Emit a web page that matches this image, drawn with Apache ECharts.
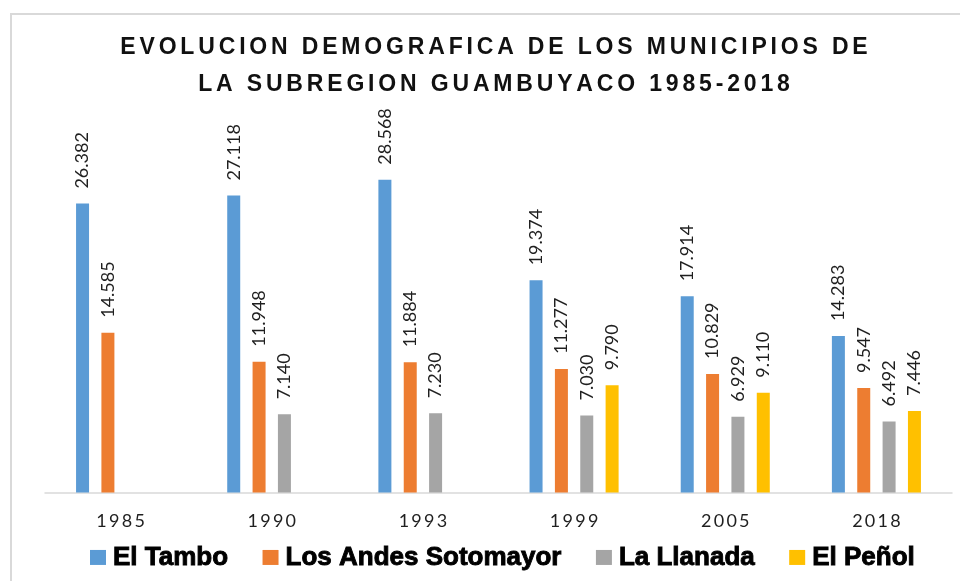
<!DOCTYPE html>
<html>
<head>
<meta charset="utf-8">
<script src="https://cdn.jsdelivr.net/npm/echarts@6/dist/echarts.min.js"></script>
<style>
html, body { margin:0; padding:0; background:#fff; overflow:hidden; }
#frame { position:absolute; left:10px; top:13px; width:1000px; height:1000px; border:2px solid #d9d9d9; }
#main { position:absolute; left:0; top:0; width:960px; height:581px; }
</style>
</head>
<body>
<div id="frame"></div>
<div id="main"></div>
<script>
var years = ['1985', '1990', '1993', '1999', '2005', '2018'];
var elTambo = [26382, 27118, 28568, 19374, 17914, 14283];
var losAndes = [14585, 11948, 11884, 11277, 10829, 9547];
var laLlanada = [null, 7140, 7230, 7030, 6929, 6492];
var elPenol = [null, null, null, 9790, 9110, 7446];

var names = ['El Tambo', 'Los Andes Sotomayor', 'La Llanada', 'El Peñol'];
var colors = ['#5B9BD5', '#ED7D31', '#A5A5A5', '#FFC000'];
var titleLines = ['EVOLUCION DEMOGRAFICA DE LOS MUNICIPIOS DE', 'LA SUBREGION GUAMBUYACO 1985-2018'];

// spread letters a bit, like the original title
function spaced(s, sep){
	return s.split('').join(sep);
}

function fmt(v){
	return (v / 1000).toFixed(3);
}

function makeSeries(name, data){
	return {
		name: name,
		type: 'bar',
		data: data,
		barWidth: 13,
		barGap: '95%',
		label: {
			show: true,
			position: 'top',
			rotate: 90,
			align: 'left',
			verticalAlign: 'middle',
			distance: 15,
			color: '#1f1f1f',
			fontFamily: 'Lato',
			fontSize: 18,
			formatter: function(p){ return fmt(p.value); }
		}
	};
}

var myChart = echarts.init(document.getElementById('main'), null, {renderer: 'canvas'});

var option = {
	color: colors,
	animation: false,
	title: {
		text: titleLines.map(function(t){ return spaced(t, '\u2006'); }).join('\n'),
		left: 494,
		top: 29,
		padding: 0,
		textAlign: 'center',
		textStyle: {
			fontFamily: 'Liberation Sans',
			fontWeight: 'bold',
			fontSize: 23,
			lineHeight: 37,
			color: '#111'
		}
	},
	legend: {
		data: names,
		left: 90,
		top: 544,
		padding: 0,
		itemWidth: 16,
		itemHeight: 15,
		itemGap: 34,
		icon: 'rect',
		textStyle: {
			fontFamily: 'Liberation Sans',
			fontWeight: 'bold',
			fontSize: 26,
			color: '#000',
			textBorderColor: '#000',
			textBorderWidth: 0.9,
			padding: [0, 0, 0, 2]
		}
	},
	grid: {
		left: 45,
		right: 8,
		top: 164,
		bottom: 88.5
	},
	xAxis: {
		type: 'category',
		data: years,
		axisTick: { show: false },
		axisLine: { lineStyle: { color: '#d9d9d9', width: 1.5 } },
		axisLabel: {
			margin: 20,
			fontFamily: 'Lato',
			fontSize: 18,
			color: '#1f1f1f',
			formatter: function(v){ return spaced(v, '\u2009'); }
		}
	},
	yAxis: {
		type: 'value',
		min: 0,
		max: 30000,
		show: false,
		splitLine: { show: false }
	},
	series: [
		makeSeries(names[0], elTambo),
		makeSeries(names[1], losAndes),
		makeSeries(names[2], laLlanada),
		makeSeries(names[3], elPenol)
	]
};

myChart.setOption(option, true);
</script>
</body>
</html>
